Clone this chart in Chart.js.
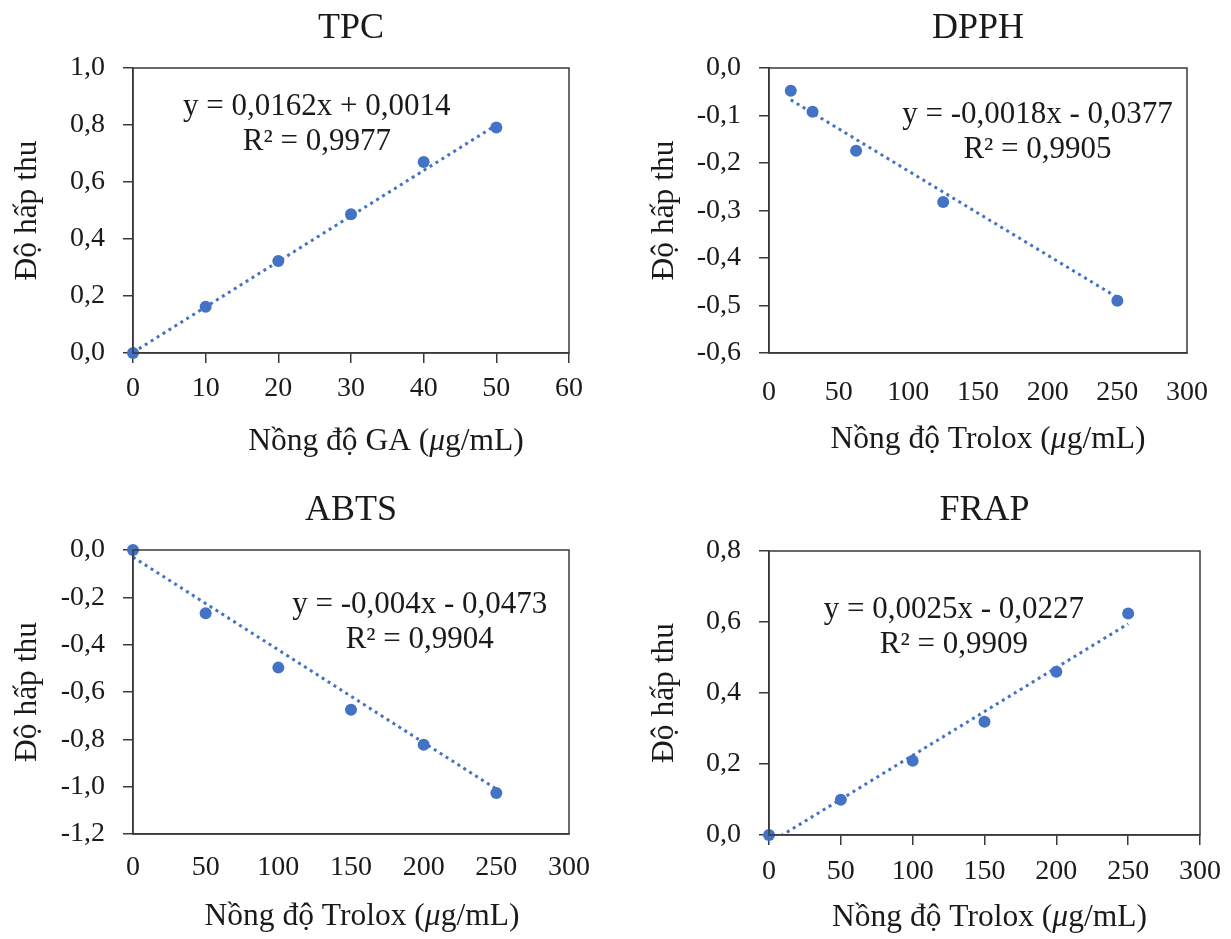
<!DOCTYPE html>
<html>
<head>
<meta charset="utf-8">
<script src="https://cdn.jsdelivr.net/npm/chart.js@4/dist/chart.umd.min.js"></script>
<style>
  html, body { margin: 0; padding: 0; background: #ffffff; }
  #wrap { position: relative; width: 1231px; height: 939px; overflow: hidden; }
  canvas { position: absolute; }
</style>
</head>
<body>
<div id="wrap">
  <canvas id="c1" width="615" height="469" style="left:0px;top:0px"></canvas>
  <canvas id="c2" width="616" height="469" style="left:615px;top:0px"></canvas>
  <canvas id="c3" width="615" height="470" style="left:0px;top:469px"></canvas>
  <canvas id="c4" width="616" height="470" style="left:615px;top:469px"></canvas>
</div>
<script>
// ---------- DATA ----------
// TPC (Gallic acid standard)
const tpcX = [0, 10, 20, 30, 40, 50];
const tpcY = [0.000, 0.162, 0.323, 0.487, 0.670, 0.791];
const tpcTrendX = [0, 50];
const tpcTrendY = [0.002, 0.800];
const tpcEq = ['y = 0,0162x + 0,0014', 'R² = 0,9977'];
const tpcXTicks = [0, 10, 20, 30, 40, 50, 60];
const tpcYTicks = [0, 0.2, 0.4, 0.6, 0.8, 1.0];

// DPPH (Trolox standard)
const dpphX = [15.625, 31.25, 62.5, 125, 250];
const dpphY = [-0.048, -0.092, -0.174, -0.282, -0.490];
const dpphTrendX = [15.625, 250];
const dpphTrendY = [-0.067, -0.483];
const dpphEq = ['y = -0,0018x - 0,0377', 'R² = 0,9905'];
const dpphXTicks = [0, 50, 100, 150, 200, 250, 300];
const dpphYTicks = [-0.6, -0.5, -0.4, -0.3, -0.2, -0.1, 0.0];

// ABTS (Trolox standard)
const abtsX = [0, 50, 100, 150, 200, 250];
const abtsY = [0.000, -0.267, -0.497, -0.675, -0.823, -1.027];
const abtsTrendX = [0, 250];
const abtsTrendY = [-0.030, -1.010];
const abtsEq = ['y = -0,004x - 0,0473', 'R² = 0,9904'];
const abtsXTicks = [0, 50, 100, 150, 200, 250, 300];
const abtsYTicks = [-1.2, -1.0, -0.8, -0.6, -0.4, -0.2, 0.0];

// FRAP (Trolox standard)
const frapX = [0, 50, 100, 150, 200, 250];
const frapY = [0.000, 0.099, 0.209, 0.319, 0.460, 0.624];
const frapTrendX = [0, 250];
const frapTrendY = [-0.023, 0.595];
const frapEq = ['y = 0,0025x - 0,0227', 'R² = 0,9909'];
const frapXTicks = [0, 50, 100, 150, 200, 250, 300];
const frapYTicks = [0, 0.2, 0.4, 0.6, 0.8];

const titles = ['TPC', 'DPPH', 'ABTS', 'FRAP'];
const yTitle = 'Độ hấp thu';
const xTitles = ['Nồng độ GA (μg/mL)', 'Nồng độ Trolox (μg/mL)', 'Nồng độ Trolox (μg/mL)', 'Nồng độ Trolox (μg/mL)'];

// ---------- STYLE ----------
const FONT = "'Liberation Serif', 'Times New Roman', serif";
const BLUE = '#4472C4';
const INK = '#1a1a1a';
const AXIS = '#3a3a3a';

function pts(xs, ys) { return xs.map((x, i) => ({ x: x, y: ys[i] })); }
function fmt(v) { return v.toFixed(1).replace('.', ','); }

const boxPlugin = {
  id: 'box',
  afterDraw(chart) {
    const a = chart.chartArea, ctx = chart.ctx;
    ctx.save();
    ctx.strokeStyle = AXIS;
    ctx.lineWidth = 1.5;
    ctx.strokeRect(a.left, a.top, a.right - a.left, a.bottom - a.top);
    ctx.restore();
  }
};

const eqPlugin = {
  id: 'eq',
  afterDatasetsDraw(chart, args, opts) {
    const ctx = chart.ctx;
    const px = chart.scales.x.getPixelForValue(opts.at[0]);
    const py = chart.scales.y.getPixelForValue(opts.at[1]);
    ctx.save();
    ctx.font = '31px ' + FONT;
    ctx.fillStyle = INK;
    ctx.textAlign = 'center';
    ctx.textBaseline = 'alphabetic';
    opts.lines.forEach((t, i) => ctx.fillText(t, px, py + i * 35));
    ctx.restore();
  }
};

// x-axis title with an italic μ, centred under the plot with a small offset
const xTitlePlugin = {
  id: 'xtitle',
  afterDraw(chart, args, opts) {
    const ctx = chart.ctx, a = chart.chartArea;
    const parts = opts.text.split('μ');
    const segs = [];
    parts.forEach((p, i) => {
      segs.push({ t: p, f: '31.5px ' + FONT });
      if (i < parts.length - 1) segs.push({ t: 'μ', f: 'italic 31.5px ' + FONT });
    });
    ctx.save();
    ctx.fillStyle = INK;
    ctx.textBaseline = 'alphabetic';
    ctx.textAlign = 'left';
    let total = 0;
    segs.forEach(s => { ctx.font = s.f; s.w = ctx.measureText(s.t).width; total += s.w; });
    let x = (a.left + a.right) / 2 + opts.dx - total / 2;
    segs.forEach(s => { ctx.font = s.f; ctx.fillText(s.t, x, opts.baseline); x += s.w; });
    ctx.restore();
  }
};

function makeChart(id, cfg) {
  const L = cfg.layout;
  new Chart(document.getElementById(id), {
    data: {
      datasets: [
        {
          type: 'line',
          data: pts(cfg.tx, cfg.ty),
          borderColor: BLUE,
          borderWidth: 3,
          borderDash: [3, 4],
          borderCapStyle: 'butt',
          pointRadius: 0,
          fill: false
        },
        {
          type: 'scatter',
          data: pts(cfg.x, cfg.y),
          backgroundColor: BLUE,
          borderColor: BLUE,
          borderWidth: 0,
          pointRadius: 6,
          clip: false
        }
      ]
    },
    options: {
      responsive: false,
      maintainAspectRatio: false,
      animation: false,
      events: [],
      layout: { padding: { left: L.padLeft, right: L.padRight, top: 0, bottom: L.padBottom } },
      plugins: {
        legend: { display: false },
        tooltip: { enabled: false },
        title: {
          display: true,
          text: cfg.title,
          fullSize: false,
          color: INK,
          font: { family: FONT, size: 36, weight: 'normal', lineHeight: 1.2 },
          padding: { top: L.titleMid - 21.6, bottom: L.areaTop - L.titleMid - 21.6 }
        },
        eq: { at: cfg.eqAt, lines: cfg.eq },
        xtitle: { text: cfg.xTitle, dx: L.xTitleDx, baseline: L.xTitleBase }
      },
      scales: {
        x: {
          type: 'linear',
          position: 'bottom',
          min: cfg.xTicks[0],
          max: cfg.xTicks[cfg.xTicks.length - 1],
          afterBuildTicks: s => { s.ticks = cfg.xTicks.map(v => ({ value: v })); },
          afterFit: s => { s.height = L.xH; },
          grid: { display: true, drawOnChartArea: false, drawTicks: cfg.xTickMarks, tickLength: 10, color: AXIS, lineWidth: 1.5 },
          border: { display: true, color: AXIS, width: 1.5 },
          ticks: { color: INK, padding: L.xPad, maxRotation: 0, autoSkip: false, font: { family: FONT, size: 28 }, callback: v => String(v) },
          title: { display: false }
        },
        y: {
          type: 'linear',
          position: 'left',
          min: cfg.yTicks[0],
          max: cfg.yTicks[cfg.yTicks.length - 1],
          afterBuildTicks: s => { s.ticks = cfg.yTicks.map(v => ({ value: v })); },
          afterFit: s => { s.width = L.yW; },
          grid: { display: true, drawOnChartArea: false, drawTicks: true, tickLength: 10, color: AXIS, lineWidth: 1.5 },
          border: { display: true, color: AXIS, width: 1.5 },
          ticks: { color: INK, padding: 18, autoSkip: false, font: { family: FONT, size: 28 }, callback: v => fmt(v) },
          title: { display: true, text: yTitle, color: INK, font: { family: FONT, size: 31.5, lineHeight: 1.2 }, padding: { top: 9, bottom: 0 } }
        }
      }
    },
    plugins: [boxPlugin, eqPlugin, xTitlePlugin]
  });
}

makeChart('c1', {
  title: titles[0], xTitle: xTitles[0],
  x: tpcX, y: tpcY, tx: tpcTrendX, ty: tpcTrendY,
  xTicks: tpcXTicks, yTicks: tpcYTicks, xTickMarks: true,
  eq: tpcEq, eqAt: [25.3, 0.835],
  layout: { padLeft: 0, yW: 133, padRight: 46, padBottom: 11, xH: 105, xPad: 9, areaTop: 68, titleMid: 28.5, xTitleDx: 35, xTitleBase: 450 }
});
makeChart('c2', {
  title: titles[1], xTitle: xTitles[1],
  x: dpphX, y: dpphY, tx: dpphTrendX, ty: dpphTrendY,
  xTicks: dpphXTicks, yTicks: dpphYTicks, xTickMarks: false,
  eq: dpphEq, eqAt: [192.7, -0.115],
  layout: { padLeft: 22, yW: 132, padRight: 26, padBottom: 13, xH: 103, xPad: 23, areaTop: 68, titleMid: 28.5, xTitleDx: 10, xTitleBase: 448 }
});
makeChart('c3', {
  title: titles[2], xTitle: xTitles[2],
  x: abtsX, y: abtsY, tx: abtsTrendX, ty: abtsTrendY,
  xTicks: abtsXTicks, yTicks: abtsYTicks, xTickMarks: false,
  eq: abtsEq, eqAt: [197.3, -0.266],
  layout: { padLeft: 0, yW: 133, padRight: 46, padBottom: 5, xH: 100, xPad: 17, areaTop: 81, titleMid: 41.5, xTitleDx: 11, xTitleBase: 456 }
});
makeChart('c4', {
  title: titles[3], xTitle: xTitles[3],
  x: frapX, y: frapY, tx: frapTrendX, ty: frapTrendY,
  xTicks: frapXTicks, yTicks: frapYTicks, xTickMarks: true,
  eq: frapEq, eqAt: [128.7, 0.611],
  layout: { padLeft: 22, yW: 132, padRight: 26, padBottom: 5, xH: 99, xPad: 10, areaTop: 82, titleMid: 42, xTitleDx: 5, xTitleBase: 457 }
});
</script>
</body>
</html>
